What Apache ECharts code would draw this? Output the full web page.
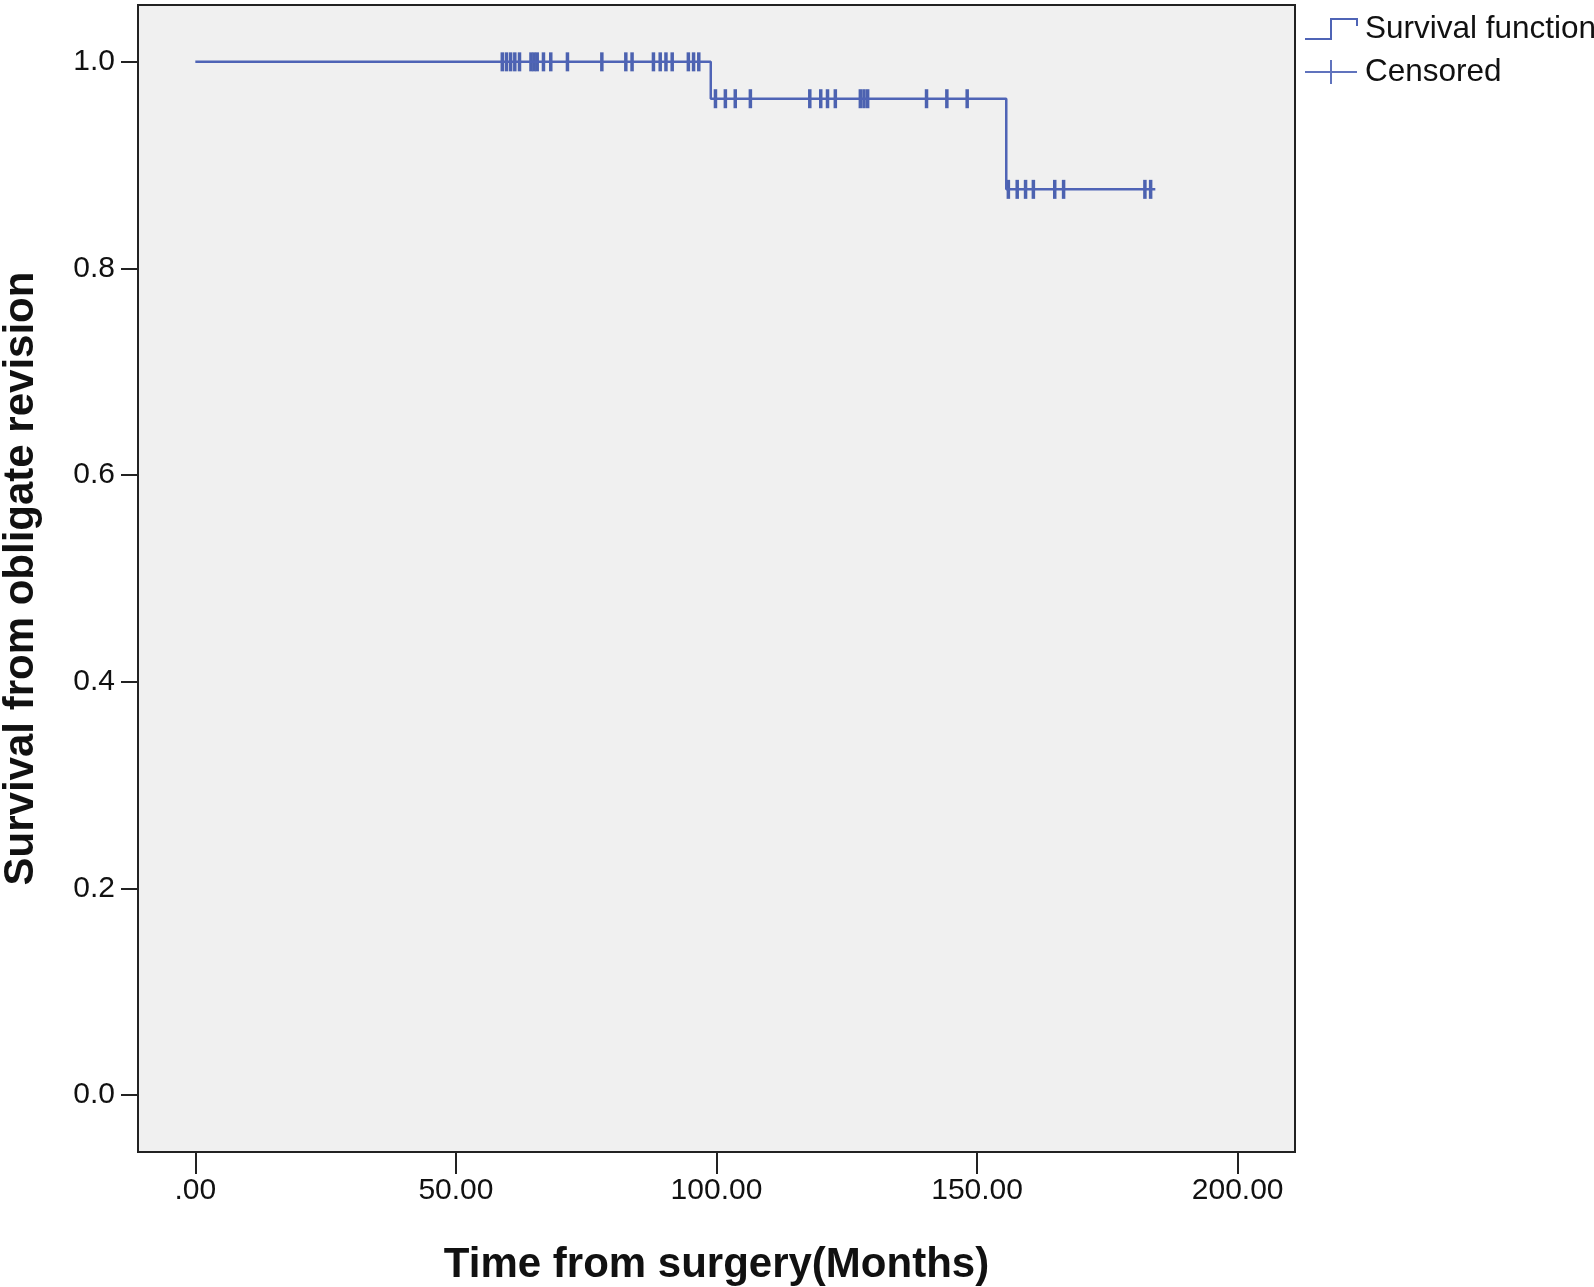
<!DOCTYPE html>
<html>
<head>
<meta charset="utf-8">
<script src="https://cdn.jsdelivr.net/npm/echarts@6/dist/echarts.min.js"></script>
<style>
  html, body { margin: 0; padding: 0; background: #fff; }
  #main { width: 1594px; height: 1287px; }
</style>
</head>
<body>
<div id="main"></div>
<script>
// Kaplan-Meier step points (time in months, survival)
var stepTimes = [0, 98.9, 155.6, 184.2];
var stepSurvival = [1.0, 0.9643, 0.8766, 0.8766];

// censored observations (months)
var censoredTimes = [
  58.9, 59.7, 60.5, 61.3, 62.2, 64.4, 65.0, 65.6, 66.8, 68.2, 71.4, 78.0,
  82.6, 83.8, 87.9, 89.2, 90.3, 91.5, 94.6, 95.6, 96.6,
  99.8, 101.7, 103.6, 106.5, 117.9, 120.0, 121.3, 122.8, 127.6, 128.3, 129.0,
  140.3, 144.2, 148.1,
  156.0, 157.7, 159.3, 160.8, 164.9, 166.6, 182.2, 183.3
];

var xTicks = [0, 50, 100, 150, 200];
var yTicks = [0, 0.2, 0.4, 0.6, 0.8, 1.0];

var lineColor = '#4f64b6';
var markColor = '#3a52a8';

function survivalAt(t) {
  var s = stepSurvival[0];
  for (var i = 0; i < stepTimes.length; i++) {
    if (stepTimes[i] <= t) s = stepSurvival[i];
  }
  return s;
}

var stepData = stepTimes.map(function (t, i) { return [t, stepSurvival[i]]; });
var censoredData = censoredTimes.map(function (t) { return [t, survivalAt(t)]; });

var chart = echarts.init(document.getElementById('main'));

var option = {
  animation: false,
  textStyle: { fontFamily: 'Arial, "Liberation Sans", sans-serif' },
  grid: {
    left: 138, right: 299, top: 5, bottom: 135,
    outerBoundsMode: 'none',
    containLabel: false,
    show: true,
    backgroundColor: '#f0f0f0',
    borderColor: '#222',
    borderWidth: 2
  },
  legend: {
    orient: 'vertical',
    left: 1299,
    top: 8,
    itemWidth: 52,
    itemHeight: 24,
    itemGap: 11,
    textStyle: { fontSize: 31.5, color: '#111', padding: [0, 0, 0, 3] },
    data: [
      {
        name: 'Survival function',
        icon: 'path://M0,22 L26,22 L26,2 L52,2 L52,9',
        itemStyle: { color: 'transparent', borderColor: lineColor, borderWidth: 2 }
      },
      {
        name: 'Censored',
        icon: 'path://M0,12 L52,12 M26,0 L26,24',
        itemStyle: { color: 'transparent', borderColor: lineColor, borderWidth: 2 }
      }
    ]
  },
  xAxis: {
    type: 'value',
    min: -11,
    max: 211,
    name: 'Time from surgery(Months)',
    nameLocation: 'middle',
    nameGap: 92,
    nameTextStyle: { fontSize: 42, fontWeight: 'bold', color: '#111' },
    splitLine: { show: false },
    axisLine: { show: true, onZero: false, lineStyle: { color: '#222', width: 2 } },
    axisTick: { show: true, length: 22, customValues: xTicks, lineStyle: { color: '#222', width: 2 } },
    axisLabel: {
      customValues: xTicks,
      fontSize: 30,
      color: '#111',
      margin: 24,
      formatter: function (v) { return v === 0 ? '.00' : v.toFixed(2); }
    }
  },
  yAxis: {
    type: 'value',
    min: -0.055,
    max: 1.055,
    name: 'Survival from obligate revision',
    nameLocation: 'middle',
    nameGap: 96,
    nameTextStyle: { fontSize: 42, fontWeight: 'bold', color: '#111' },
    splitLine: { show: false },
    axisLine: { show: true, onZero: false, lineStyle: { color: '#222', width: 2 } },
    axisTick: { show: true, length: 17, customValues: yTicks, lineStyle: { color: '#222', width: 2 } },
    axisLabel: {
      customValues: yTicks,
      fontSize: 30,
      color: '#111',
      margin: 23,
      formatter: function (v) { return v.toFixed(1); }
    }
  },
  series: [
    {
      name: 'Survival function',
      type: 'line',
      step: 'end',
      showSymbol: false,
      data: stepData,
      lineStyle: { color: lineColor, width: 2.5 },
      itemStyle: { color: lineColor }
    },
    {
      name: 'Censored',
      type: 'scatter',
      symbol: 'rect',
      symbolSize: [3.5, 19],
      data: censoredData,
      itemStyle: { color: markColor, opacity: 0.9 }
    }
  ]
};

chart.setOption(option);
</script>
</body>
</html>
